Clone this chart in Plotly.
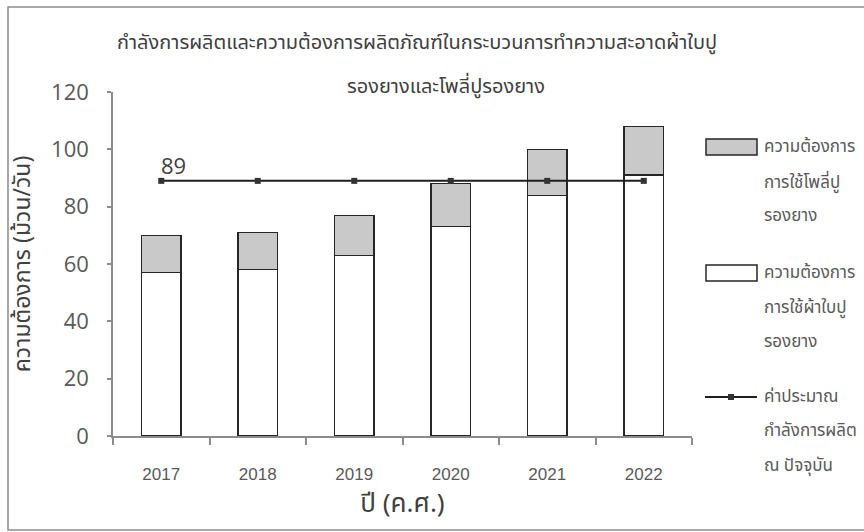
import plotly.graph_objects as go

# Data (rolls per day)
years = ["2017", "2018", "2019", "2020", "2021", "2022"]
canvas_demand = [57, 58, 63, 73, 84, 91]      # ความต้องการการใช้ผ้าใบปูรองยาง
poly_demand = [13, 13, 14, 15, 16, 17]        # ความต้องการการใช้โพลี่ปูรองยาง (stacked on top)
capacity = [89, 89, 89, 89, 89, 89]           # ค่าประมาณกำลังการผลิต ณ ปัจจุบัน

title_lines = ["กำลังการผลิตและความต้องการผลิตภัณฑ์ในกระบวนการทำความสะอาดผ้าใบปู",
               "รองยางและโพลี่ปูรองยาง"]
legend_texts = [
    ["ความต้องการ", "การใช้โพลี่ปู", "รองยาง"],
    ["ความต้องการ", "การใช้ผ้าใบปู", "รองยาง"],
    ["ค่าประมาณ", "กำลังการผลิต", "ณ ปัจจุบัน"],
]

W, H = 864, 532
L, R, T, B = 113, 692, 92, 436  # plot area in pixels

def px(x):
    return (x - L) / (R - L)

def py(y):
    return (B - y) / (B - T)

THAI = "Noto Sans Thai, Tahoma, Leelawadee UI, Open Sans, sans-serif"
GRAY_TEXT = "#595959"
DARK_TEXT = "#404040"
BAR_EDGE = "#262626"
POLY_FILL = "#c9c9c9"

fig = go.Figure()
fig.add_trace(go.Bar(
    x=years, y=canvas_demand, name="canvas",
    marker=dict(color="white", line=dict(color=BAR_EDGE, width=1.3)),
    showlegend=False, hoverinfo="skip",
))
fig.add_trace(go.Bar(
    x=years, y=poly_demand, name="poly",
    marker=dict(color=POLY_FILL, line=dict(color=BAR_EDGE, width=1.3)),
    showlegend=False, hoverinfo="skip",
))
fig.add_trace(go.Scatter(
    x=years, y=capacity, mode="lines+markers", name="capacity",
    line=dict(color="#1f1f1f", width=2),
    marker=dict(symbol="square", size=6, color="#333333"),
    showlegend=False, hoverinfo="skip",
))

annotations = []
# value label on the first capacity point (category index 0)
annotations.append(dict(
    x=years.index(years[0]), y=capacity[0], xref="x", yref="y", text=str(capacity[0]),
    showarrow=False, xanchor="center", yanchor="bottom", xshift=12, yshift=-1,
    font=dict(family="Open Sans", size=22, color=DARK_TEXT),
))

# two-line chart title
annotations.append(dict(
    x=px(115), y=py(43), xref="paper", yref="paper", text=title_lines[0],
    showarrow=False, xanchor="left", yanchor="middle",
    font=dict(family=THAI, size=20, color=DARK_TEXT),
))
annotations.append(dict(
    x=px(345), y=py(87), xref="paper", yref="paper", text=title_lines[1],
    showarrow=False, xanchor="left", yanchor="middle",
    font=dict(family=THAI, size=20, color=DARK_TEXT),
))

# legend texts
legend_rows = [[147, 183, 216], [273, 308, 342], [397, 431, 466]]
for texts, rows in zip(legend_texts, legend_rows):
    for t, yy in zip(texts, rows):
        annotations.append(dict(
            x=px(762), y=py(yy), xref="paper", yref="paper", text=t,
            showarrow=False, xanchor="left", yanchor="middle",
            font=dict(family=THAI, size=17, color=GRAY_TEXT),
        ))

shapes = [
    # outer frame
    dict(type="rect", xref="paper", yref="paper",
         x0=px(8), x1=px(870), y0=py(530), y1=py(7),
         line=dict(color="#8c8c8c", width=1.5), fillcolor="rgba(0,0,0,0)", layer="below"),
    # legend swatches
    dict(type="rect", xref="paper", yref="paper",
         x0=px(706), x1=px(757), y0=py(155), y1=py(139),
         line=dict(color=BAR_EDGE, width=1.5), fillcolor=POLY_FILL),
    dict(type="rect", xref="paper", yref="paper",
         x0=px(706), x1=px(757), y0=py(281), y1=py(265),
         line=dict(color=BAR_EDGE, width=1.5), fillcolor="white"),
    dict(type="line", xref="paper", yref="paper",
         x0=px(705), x1=px(757), y0=py(397), y1=py(397),
         line=dict(color="#1f1f1f", width=2)),
    dict(type="rect", xref="paper", yref="paper",
         x0=px(728), x1=px(734), y0=py(400), y1=py(394),
         line=dict(color="#333333", width=0), fillcolor="#333333"),
]

fig.update_layout(
    width=W, height=H,
    margin=dict(l=L, r=W - R, t=T, b=H - B, pad=0),
    paper_bgcolor="white", plot_bgcolor="white",
    barmode="stack", bargap=0.59,
    annotations=annotations, shapes=shapes,
    showlegend=False,
)
fig.update_xaxes(
    type="category", categoryorder="array", categoryarray=years,
    range=[-0.5, len(years) - 0.5],
    showline=True, linecolor="#8c8c8c", linewidth=1.5,
    ticks="outside", tickson="boundaries", ticklen=7, tickcolor="#8c8c8c", tickwidth=1.5,
    tickfont=dict(family="Liberation Sans, Arial", size=17, color=GRAY_TEXT),
    ticklabelstandoff=22, tickangle=0,
    showgrid=False, zeroline=False,
    title=dict(text="ปี (ค.ศ.)", font=dict(family=THAI, size=26, color=DARK_TEXT), standoff=10),
)
fig.update_yaxes(
    range=[0, 120], dtick=20, tick0=0,
    showline=True, linecolor="#8c8c8c", linewidth=1.5,
    ticks="outside", ticklen=4, tickcolor="#8c8c8c", tickwidth=1.5,
    tickfont=dict(family="Open Sans", size=22, color=GRAY_TEXT),
    ticklabelstandoff=14,
    showgrid=False, zeroline=False,
    title=dict(text="ความต้องการ (ม้วน/วัน)", font=dict(family=THAI, size=23, color=DARK_TEXT), standoff=14),
)

fig.write_html("out.html")
